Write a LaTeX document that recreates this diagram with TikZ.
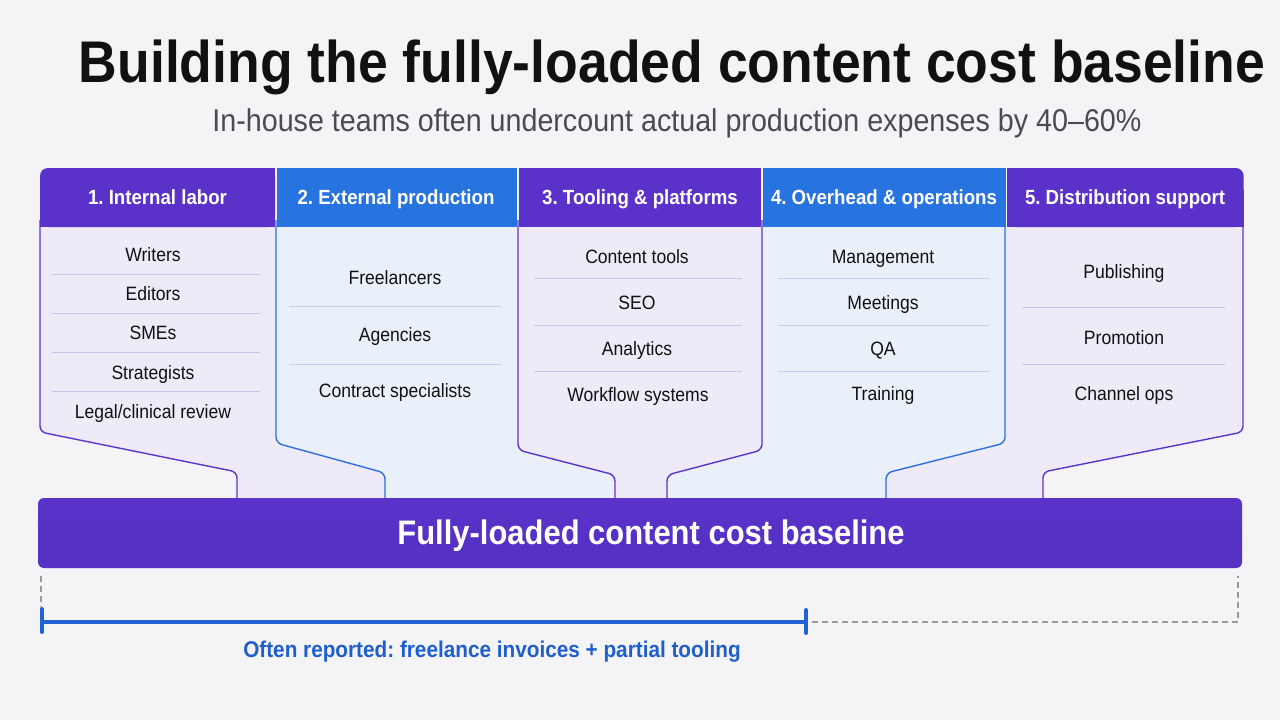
\documentclass[tikz,border=0pt]{standalone}
\usepackage{fontspec}
\setmainfont{Liberation Sans}[FakeStretch=0.91]
\frenchspacing
\definecolor{bgc}{HTML}{F4F4F7}
\definecolor{hpur}{HTML}{5A32CA}
\definecolor{hblu}{HTML}{2773E0}
\definecolor{lavf}{HTML}{EEEAF7}
\definecolor{bluf}{HTML}{EAF0FA}
\definecolor{lpur}{HTML}{5B36CC}
\definecolor{lblu}{HTML}{2F6FDD}
\definecolor{dpur}{HTML}{CCC3EC}
\definecolor{dblu}{HTML}{C6D0EA}
\definecolor{barc}{HTML}{5431C2}
\definecolor{brk}{HTML}{1F63D0}
\definecolor{labc}{HTML}{1F5FCC}
\definecolor{subc}{HTML}{4A4A55}
\definecolor{titc}{HTML}{111111}
\definecolor{dashc}{HTML}{9A9A9A}
\tikzset{
  hdrtext/.style={text=white,font=\fontsize{20.5}{24}\selectfont\bfseries,anchor=center,text height=15pt,text depth=4pt,inner sep=0pt},
  itemtext/.style={text=titc,font=\fontsize{19.3}{23}\selectfont,anchor=center,text height=14pt,text depth=4pt,inner sep=0pt},
  outp/.style={draw=lpur,line width=1.4pt,rounded corners=6},
  outb/.style={draw=lblu,line width=1.4pt,rounded corners=6},
  divp/.style={draw=dpur,line width=0.9pt},
  divb/.style={draw=dblu,line width=0.9pt},
  gdash/.style={draw=dashc,line width=1.3pt,dash pattern=on 6pt off 4pt},
}
\begin{document}
\begin{tikzpicture}[x=1pt,y=-1pt]
\fill[bgc] (0,0) rectangle (1280,720);
\useasboundingbox (0,0) rectangle (1280,720);

% title
\node[text=titc,font=\fontsize{58.8}{64}\selectfont\bfseries] (title) at (672,67) {Building the fully-loaded content cost baseline};
\node[text=subc,font=\fontsize{31.5}{36}\selectfont] (subtitle) at (677,123) {In-house teams often undercount actual production expenses by 40–60\%};

% column bodies
\fill[lavf] (40,227) -- (276,227) -- (276,443) -- (385,473) -- (385,499) -- (237,499) -- (237,472) -- (40,432) -- cycle;
\fill[bluf] (276,227) -- (518,227) -- (518,450) -- (615,475) -- (615,499) -- (385,499) -- (385,473) -- (276,443) -- cycle;
\fill[lavf] (518,227) -- (762,227) -- (762,450) -- (667,475) -- (667,499) -- (615,499) -- (615,475) -- (518,450) -- cycle;
\fill[bluf] (762,227) -- (1005,227) -- (1005,443) -- (886,473) -- (886,499) -- (667,499) -- (667,475) -- (762,450) -- cycle;
\fill[lavf] (1005,227) -- (1243,227) -- (1243,432) -- (1043,472) -- (1043,499) -- (886,499) -- (886,473) -- (1005,443) -- cycle;

% outlines
\draw[outp] (40,220) -- (40,432) -- (237,472) -- (237,499);
\draw[outb] (276,220) -- (276,443) -- (385,473) -- (385,499);
\draw[outp] (518,220) -- (518,450) -- (615,475) -- (615,499);
\draw[outp] (762,220) -- (762,450) -- (667,475) -- (667,499);
\draw[outb] (1005,220) -- (1005,443) -- (886,473) -- (886,499);
\draw[outp] (1243,220) -- (1243,432) -- (1043,472) -- (1043,499);

% headers
\fill[hpur,rounded corners=8] (40,168) rectangle (275,227);
\fill[hpur] (60,168) rectangle (275,227);
\fill[hpur] (40,190) rectangle (275,227);
\fill[hblu] (277,168) rectangle (517,227);
\fill[hpur] (519,168) rectangle (761,227);
\fill[hblu] (763,168) rectangle (1005.5,227);
\fill[hpur,rounded corners=8] (1007,168) rectangle (1243.7,227);
\fill[hpur] (1007,168) rectangle (1225,227);
\fill[hpur] (1007,190) rectangle (1243.7,227);

\node[hdrtext] (h1) at (157.5,199) {1. Internal labor};
\node[hdrtext] (h2) at (396,199) {2. External production};
\node[hdrtext] (h3) at (640,199) {3. Tooling \& platforms};
\node[hdrtext] (h4) at (884,199) {4. Overhead \& operations};
\node[hdrtext] (h5) at (1125,199) {5. Distribution support};

% column 1 items
\node[itemtext] (c1a) at (153,256) {Writers};
\node[itemtext] (c1b) at (153,295) {Editors};
\node[itemtext] (c1c) at (153,334) {SMEs};
\node[itemtext] (c1d) at (153,374) {Strategists};
\node[itemtext] (c1e) at (153,413) {Legal/clinical review};
\foreach \yy in {274,313,352,391} \draw[divp] (52,\yy) -- (260,\yy);

% column 2 items
\node[itemtext] (c2a) at (395,279) {Freelancers};
\node[itemtext] (c2b) at (395,336) {Agencies};
\node[itemtext] (c2c) at (395,392) {Contract specialists};
\foreach \yy in {306,364} \draw[divb] (289,\yy) -- (501,\yy);

% column 3 items
\node[itemtext] (c3a) at (637,258) {Content tools};
\node[itemtext] (c3b) at (637,304) {SEO};
\node[itemtext] (c3c) at (637,350) {Analytics};
\node[itemtext] (c3d) at (638,396) {Workflow systems};
\foreach \yy in {278,325,371} \draw[divp] (534,\yy) -- (742,\yy);

% column 4 items
\node[itemtext] (c4a) at (883,258) {Management};
\node[itemtext] (c4b) at (883,304) {Meetings};
\node[itemtext] (c4c) at (883,350) {QA};
\node[itemtext] (c4d) at (883,395) {Training};
\foreach \yy in {278,325,371} \draw[divb] (778,\yy) -- (989,\yy);

% column 5 items
\node[itemtext] (c5a) at (1124,273) {Publishing};
\node[itemtext] (c5b) at (1124,339) {Promotion};
\node[itemtext] (c5c) at (1124,395) {Channel ops};
\foreach \yy in {307,364} \draw[divp] (1022,\yy) -- (1225,\yy);

% bottom bar
\shade[top color=hpur,bottom color=barc,rounded corners=6] (38,498) rectangle (1242,568);
\node[text=white,font=\fontsize{34}{40}\selectfont\bfseries] (bar) at (651,536) {Fully-loaded content cost baseline};

% bracket
\coordinate (bl) at (42,622);
\coordinate (bm) at (806,622);
\coordinate (br) at (1238,622);
\coordinate (tl) at (41,576);
\coordinate (tr) at (1238,576);
\draw[gdash] (tl) -- (41,607);
\draw[gdash] (812,622) -- (br) -- (tr);
\draw[draw=brk,line width=4pt] (bl) -- (bm);
\draw[draw=brk,line width=4pt,line cap=round] (42,609) -- (42,632);
\draw[draw=brk,line width=4pt,line cap=round] (806,610) -- (806,633);
\node[text=labc,font=\fontsize{22.8}{26}\selectfont\bfseries] (lab) at (492,652) {Often reported: freelance invoices + partial tooling};
\end{tikzpicture}
\end{document}
